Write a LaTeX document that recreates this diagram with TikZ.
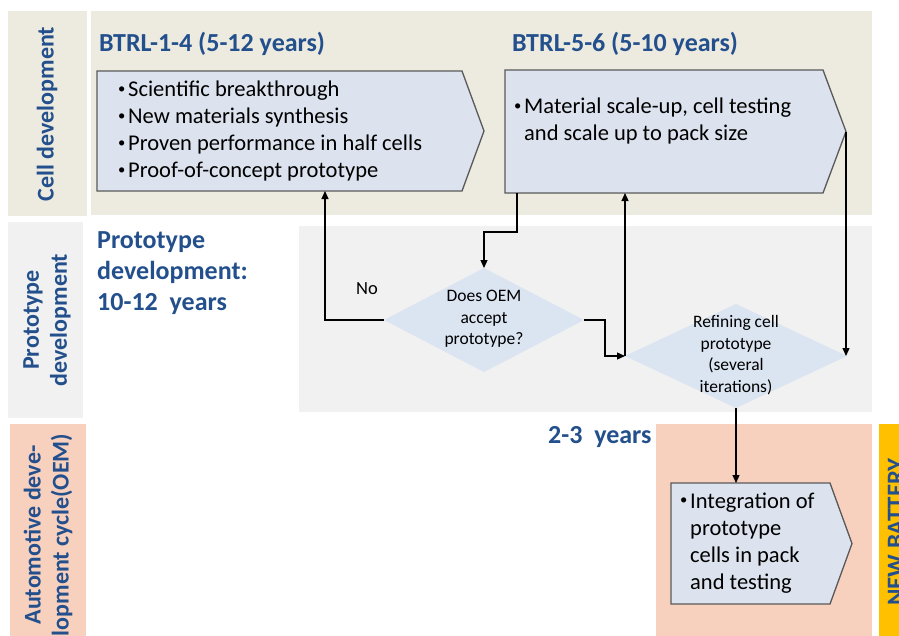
\documentclass[tikz,border=0pt]{standalone}
\usepackage{fontspec}
\setmainfont{Carlito}
\usetikzlibrary{arrows.meta,shapes.geometric,calc}

\definecolor{laneblue}{RGB}{35,80,140}
\definecolor{beige}{RGB}{237,234,224}
\definecolor{lanegray}{RGB}{241,241,241}
\definecolor{salmon}{RGB}{248,208,190}
\definecolor{boxfill}{RGB}{220,227,238}
\definecolor{decfill}{RGB}{219,228,241}
\definecolor{battery}{RGB}{255,192,0}
\definecolor{edgegray}{RGB}{89,89,89}

% small bullet followed by the hanging-indent gap
\newcommand\bul{\makebox[10pt][l]{\raisebox{0.15em}{\scalebox{0.65}{\textbullet}}}}

\begin{document}
\begin{tikzpicture}[x=1pt,y=-1pt,
  lanelabel/.style={rotate=90, text=laneblue, font=\bfseries\fontsize{24}{28}\selectfont, align=center, inner sep=0},
  heading/.style={text=laneblue, font=\bfseries\fontsize{26}{31}\selectfont, align=left, inner sep=0, anchor=west},
  body/.style={inner sep=0, outer sep=0},
  outline/.style={draw=edgegray, line width=1.3pt, fill=boxfill, line join=miter},
  boxtext/.style={font=\fontsize{22.5}{27}\selectfont, align=left, inner sep=0, anchor=west},
  decision/.style={diamond, fill=decfill, draw=none, inner sep=0, outer sep=0},
  dectext/.style={font=\fontsize{17.5}{21.5}\selectfont, align=center, inner sep=0},
  arr/.style={draw=black, line width=1.2pt, -{Triangle[length=8pt,width=7pt]}}
]
\useasboundingbox (0,0) rectangle (899,635);
\clip (0,0) rectangle (899,635);
\fill[white] (0,0) rectangle (899,635);

% swim lanes
\fill[beige] (8,11) rectangle (87,216);
\fill[beige] (91,11) rectangle (872,215);
\fill[lanegray] (8,222) rectangle (83,418);
\fill[lanegray] (299,226) rectangle (872,412);
\fill[salmon] (10,424) rectangle (86,640);
\fill[salmon] (656,424) rectangle (872,640);
\fill[battery] (879,424) rectangle (905,640);

\node[lanelabel] (l1) at (47,114) {Cell development};
\node[lanelabel] (l2) at (47,320) {Prototype\\development};
\node[lanelabel] (l3) at (48,535) {Automotive deve-\\lopment cycle(OEM)};
\node[lanelabel, font=\bfseries\fontsize{25}{28}\selectfont] (nb) at (896,532) {NEW BATTERY};

% headings
\node[heading] (h1) at (99,44) {BTRL-1-4 (5-12 years)};
\node[heading] (h2) at (512,44) {BTRL-5-6 (5-10 years)};
\node[heading] (h3) at (97,273) {Prototype\\development:\\10-12\ \ years};
\node[heading] (h4) at (548,437) {2-3\ \ years};

% process boxes (arrow-shaped)
\node[body, minimum width=365, minimum height=120] (b1) at (279.5,131) {};
\node[body, minimum width=318, minimum height=123] (b2) at (664,131.5) {};
\node[body, minimum width=159, minimum height=121] (b3) at (750.5,543.5) {};
\coordinate (b1tip) at ($(b1.east)+(22,0)$);
\coordinate (b2tip) at ($(b2.east)+(23,0)$);
\coordinate (b3tip) at ($(b3.east)+(22,0)$);
\draw[outline] (b1.north west) -- (b1.north east) -- (b1tip) -- (b1.south east) -- (b1.south west) -- cycle;
\draw[outline] (b2.north west) -- (b2.north east) -- (b2tip) -- (b2.south east) -- (b2.south west) -- cycle;
\draw[outline] (b3.north west) -- (b3.north east) -- (b3tip) -- (b3.south east) -- (b3.south west) -- cycle;

\node[boxtext] (t1) at (118,131) {\bul Scientific breakthrough\\\bul New materials synthesis\\\bul Proven performance in half cells\\\bul Proof-of-concept prototype};
\node[boxtext] (t2) at (514,121) {\bul Material scale-up, cell testing\\\hphantom{\bul}and scale up to pack size};
\node[boxtext] (t3) at (680,543) {\bul Integration of\\\hphantom{\bul}prototype\\\hphantom{\bul}cells in pack\\\hphantom{\bul}and testing};

% decisions
\node[decision, minimum width=200, minimum height=104] (d1) at (484,320) {};
\node[dectext] at ([yshift=1pt]d1.center) {Does OEM\\accept\\prototype?};
\node[decision, minimum width=222, minimum height=104] (d2) at (736,356) {};
\node[dectext] at ([yshift=1pt]d2.center) {Refining cell\\prototype\\(several\\iterations)};

% connectors
\draw[arr] ([xshift=12pt]b2.south west) -- ++(0,39) -| (d1.north);
\draw[arr] (d1.west) -| ([xshift=228pt]b1.south west);
\node[font=\fontsize{18.5}{22}\selectfont, inner sep=0] (no) at (367,289) {No};
\draw[arr] (d1.east) -- ++(21,0) |- (d2.west);
\draw[arr] (d2.west) -- (d2.west |- b2.south);
\draw[arr] (b2tip) -- (b2tip |- d2.east);
\draw[arr] (d2.south) -- (d2.south |- b3.north);
\end{tikzpicture}
\end{document}
